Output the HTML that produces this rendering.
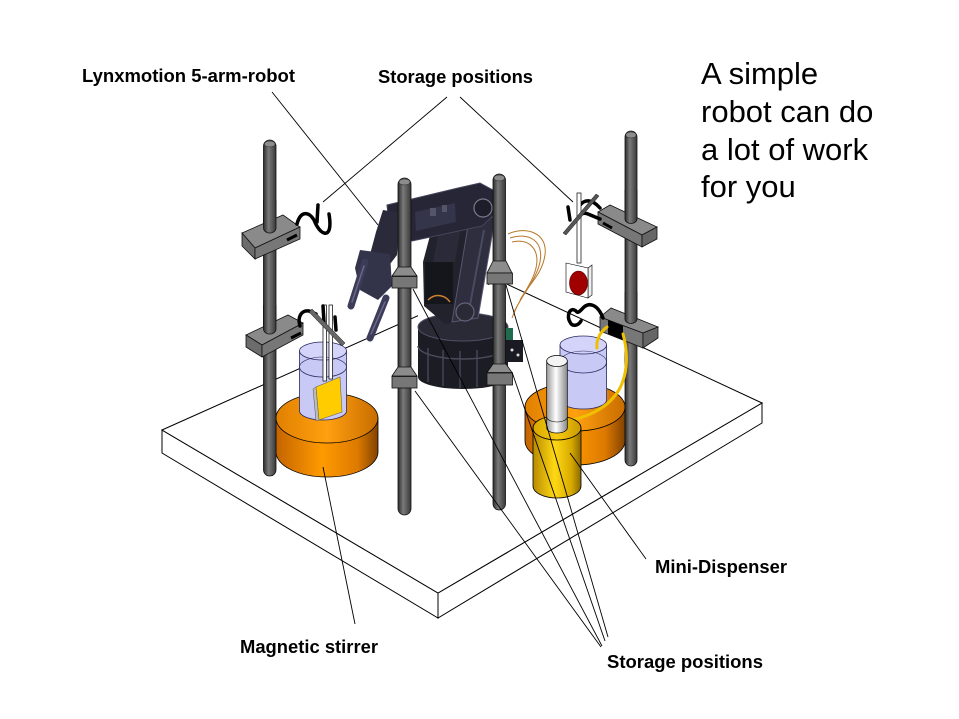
<!DOCTYPE html>
<html><head><meta charset="utf-8"><style>html,body{margin:0;padding:0;background:#fff;}svg{display:block}</style></head>
<body>
<svg width="959" height="719" viewBox="0 0 959 719" xmlns="http://www.w3.org/2000/svg">
<defs>
<linearGradient id="rod" x1="0" y1="0" x2="1" y2="0"><stop offset="0" stop-color="#2c2c2c"/><stop offset="0.4" stop-color="#7a7a7a"/><stop offset="1" stop-color="#383838"/></linearGradient>
<linearGradient id="org" x1="0" y1="0" x2="1" y2="0"><stop offset="0" stop-color="#c46400"/><stop offset="0.45" stop-color="#ff9a00"/><stop offset="0.8" stop-color="#dd7a00"/><stop offset="1" stop-color="#824200"/></linearGradient>
<linearGradient id="orgT" x1="0" y1="0" x2="1" y2="0"><stop offset="0" stop-color="#e08000"/><stop offset="0.5" stop-color="#ffa010"/><stop offset="1" stop-color="#c86c00"/></linearGradient>
<linearGradient id="gold" x1="0" y1="0" x2="1" y2="0"><stop offset="0" stop-color="#b88a00"/><stop offset="0.45" stop-color="#ffd814"/><stop offset="0.8" stop-color="#d8aa00"/><stop offset="1" stop-color="#8a6800"/></linearGradient>
<linearGradient id="goldT" x1="0" y1="0" x2="1" y2="0"><stop offset="0" stop-color="#d8a800"/><stop offset="0.5" stop-color="#f8cc10"/><stop offset="1" stop-color="#c89800"/></linearGradient>
<linearGradient id="silver" x1="0" y1="0" x2="1" y2="0"><stop offset="0" stop-color="#9a9a9a"/><stop offset="0.45" stop-color="#ffffff"/><stop offset="1" stop-color="#888888"/></linearGradient>
</defs>
<rect width="959" height="719" fill="#fff"/>

<!-- Base plate -->
<g fill="#fff" stroke="#000" stroke-width="1">
<polygon points="162,430 438,593 438,618 162,453"/>
<polygon points="438,593 762,403 762,423 438,618"/>
<polygon points="162,430 498,280 762,403 438,593"/>
</g>

<!-- LEFT STACK -->
<path d="M276,418 L276,452 A51,25 0 0 0 378,452 L378,418 Z" fill="url(#org)" stroke="#000" stroke-width="0.8"/>
<ellipse cx="327" cy="418" rx="51" ry="25" fill="url(#orgT)" stroke="#000" stroke-width="0.8"/>
<path d="M299.5,351 L299.5,411 A23.5,9 0 0 0 346.5,411 L346.5,351 Z" fill="#c9c9f6" stroke="#2a2a60" stroke-width="0.8"/>
<ellipse cx="323" cy="351" rx="23.5" ry="9" fill="#d4d4fa" stroke="#2a2a60" stroke-width="0.8"/>
<path d="M299.5,367 A23.5,10 0 0 0 346.5,367" fill="none" stroke="#2a2a60" stroke-width="0.8"/>
<path d="M299.5,367 A23.5,10 0 0 1 346.5,367" fill="none" stroke="#2a2a60" stroke-width="0.6"/>
<rect x="323" y="305" width="3.5" height="76" fill="#fff" stroke="#000" stroke-width="0.7"/>
<rect x="329" y="305" width="3.5" height="74" fill="#fff" stroke="#000" stroke-width="0.7"/>
<polygon points="313,389 316,387 319,420 316,421" fill="#bbb" stroke="#555" stroke-width="0.5"/>
<polygon points="316,387 340,377 342,412 319,420" fill="#ffcc00" stroke="#666" stroke-width="0.6"/>

<!-- left back rod -->
<rect x="263.5" y="140" width="12.5" height="336" rx="6.2" fill="url(#rod)" stroke="#111" stroke-width="0.8"/>
<ellipse cx="269.75" cy="144" rx="5.4" ry="3" fill="#8c8c8c" stroke="#222" stroke-width="0.5"/>
<!-- upper left clamp -->
<g stroke="#111" stroke-width="0.8">
<polygon points="242,233 283,215 300,227 255,248" fill="#8a8a8a"/>
<polygon points="242,233 255,248 255,259 242,246" fill="#6c6c6c"/>
<polygon points="255,248 300,227 300,239 255,259" fill="#777"/>
</g>
<path d="M263.5,200 L263.5,228 A6.25,5 0 0 0 276,228 L276,200" fill="url(#rod)" stroke="#111" stroke-width="0.8"/>
<line x1="287" y1="240" x2="297" y2="235" stroke="#000" stroke-width="3"/>
<g fill="none" stroke="#000" stroke-width="3.5" stroke-linecap="round">
<path d="M297,224 C300,212 308,210 314,220 C318,230 324,236 328,232 C331,228 330,220 329,214"/>
<path d="M318,205 L317,222"/>
</g>
<!-- lower left clamp -->
<g stroke="#111" stroke-width="0.8">
<polygon points="246,335 288,315 303,323 262,345" fill="#8a8a8a"/>
<polygon points="246,335 262,345 262,357 246,347" fill="#6c6c6c"/>
<polygon points="262,345 303,323 303,335 262,357" fill="#777"/>
</g>
<path d="M263.5,305 L263.5,329 A6.25,5 0 0 0 276,329 L276,305" fill="url(#rod)" stroke="#111" stroke-width="0.8"/>
<line x1="291" y1="338" x2="301" y2="333" stroke="#000" stroke-width="3"/>
<g fill="none" stroke="#000" stroke-width="3.5" stroke-linecap="round">
<path d="M300,326 C297,316 302,310 309,311 L316,314"/>
<path d="M323,306 L324,322"/>
<path d="M335,317 L336,330"/>
</g>
<polygon points="309,312 312,309 345,343 342,346" fill="#666" stroke="#111" stroke-width="0.5"/>

<!-- ROBOT -->
<polygon points="418,322 418,308 488,277 488,292" fill="#fff"/>
<path d="M418,327 L418,377 A45,12 0 0 0 508,377 L508,327 Z" fill="#1c1c24"/>
<g stroke="#3a3a4a" stroke-width="2">
<line x1="428" y1="348" x2="428" y2="382"/><line x1="443" y1="350" x2="443" y2="386"/><line x1="460" y1="351" x2="460" y2="388"/><line x1="477" y1="350" x2="477" y2="387"/><line x1="494" y1="348" x2="494" y2="383"/>
</g>
<path d="M418,346 A45,13 0 0 0 508,346" fill="none" stroke="#4a4a5a" stroke-width="1.5"/>
<ellipse cx="463" cy="327" rx="45" ry="14" fill="#2a2a36" stroke="#50506a" stroke-width="1"/>
<polygon points="432,228 468,218 478,318 445,324 424,306 423,262" fill="#22222c"/>
<rect x="425" y="262" width="28" height="42" fill="#15151c"/>
<polygon points="440,226 462,221 455,262 433,262" fill="#2a2a38"/>
<polygon points="470,214 495,218 478,318 452,322" fill="#2e2e3e" stroke="#55556e" stroke-width="1"/>
<line x1="484" y1="230" x2="470" y2="305" stroke="#4a4a62" stroke-width="2"/>
<circle cx="465" cy="312" r="9" fill="#2a2a36" stroke="#64647e" stroke-width="1.2"/>
<polygon points="387,205 458,188 480,183 493,190 495,214 482,226 412,241 390,233" fill="#262636" stroke="#44445c" stroke-width="1"/>
<polygon points="415,212 455,203 456,222 416,231" fill="#34344a"/>
<rect x="430" y="208" width="6" height="8" fill="#55556a"/>
<rect x="442" y="205" width="5" height="7" fill="#55556a"/>
<circle cx="483" cy="208" r="9" fill="#1e1e2a" stroke="#7a7a90" stroke-width="1.2"/>
<circle cx="395" cy="220" r="7" fill="#1e1e2a" stroke="#6a6a80" stroke-width="1"/>
<polygon points="383,210 401,213 397,255 384,272 368,262 376,232" fill="#2a2a3a"/>
<polygon points="360,250 390,254 392,286 378,300 360,290 355,268" fill="#33334a"/>
<g stroke-linecap="round" fill="none">
<line x1="365" y1="262" x2="351" y2="306" stroke="#3c3c58" stroke-width="7"/>
<line x1="386" y1="298" x2="370" y2="338" stroke="#3c3c58" stroke-width="7"/>
<line x1="364" y1="266" x2="352" y2="302" stroke="#6a6a88" stroke-width="1.5"/>
<line x1="385" y1="302" x2="371" y2="334" stroke="#6a6a88" stroke-width="1.5"/>
</g>
<g fill="none" stroke="#b8782a" stroke-width="1">
<path d="M508,234 C525,226 548,232 545,255 C542,275 528,285 520,300"/>
<path d="M510,238 C528,232 544,240 540,262 C536,280 524,292 514,312"/>
<path d="M512,242 C530,238 540,250 536,268 C532,285 520,296 512,318"/>
</g>
<path d="M428,300 C436,292 446,296 450,302" fill="none" stroke="#d08030" stroke-width="1.5"/>
<rect x="503" y="328" width="10" height="14" fill="#1f6b50"/>
<rect x="505" y="340" width="18" height="22" fill="#1a1a22"/>
<circle cx="512" cy="350" r="1.5" fill="#ddd"/><circle cx="518" cy="355" r="1.5" fill="#ddd"/>

<!-- FRONT RODS -->
<rect x="398" y="178" width="13" height="337" rx="6.5" fill="url(#rod)" stroke="#111" stroke-width="0.8"/>
<ellipse cx="404.5" cy="182" rx="5.6" ry="3" fill="#8c8c8c" stroke="#222" stroke-width="0.5"/>
<g stroke="#111" stroke-width="0.8">
<polygon points="398,267 411,267 417,276 392,276" fill="#8c8c8c"/>
<rect x="392" y="276.5" width="25" height="11.5" fill="#777"/>
<polygon points="398,367 411,367 417,376 392,376" fill="#8c8c8c"/>
<rect x="392" y="376.5" width="25" height="11.5" fill="#777"/>
</g>
<rect x="493" y="174" width="12.5" height="336" rx="6.2" fill="url(#rod)" stroke="#111" stroke-width="0.8"/>
<ellipse cx="499.25" cy="178" rx="5.4" ry="3" fill="#8c8c8c" stroke="#222" stroke-width="0.5"/>
<g stroke="#111" stroke-width="0.8">
<polygon points="493,261 506,261 512,273 487,273" fill="#8c8c8c"/>
<rect x="487" y="273" width="25.5" height="11" fill="#777"/>
<polygon points="493,364 506,364 512,372.5 487,372.5" fill="#8c8c8c"/>
<rect x="487" y="373" width="25.5" height="12" fill="#777"/>
</g>

<!-- RIGHT STACK -->
<path d="M525,407 L525,441 A50,24 0 0 0 625,441 L625,407 Z" fill="url(#org)" stroke="#000" stroke-width="0.8"/>
<ellipse cx="575" cy="407" rx="50" ry="24" fill="url(#orgT)" stroke="#000" stroke-width="0.8"/>
<path d="M560,345 L560,400 A23.3,9 0 0 0 606.6,400 L606.6,345 Z" fill="#c9c9f6" stroke="#2a2a60" stroke-width="0.8"/>
<ellipse cx="583.3" cy="345" rx="23.3" ry="9" fill="#d4d4fa" stroke="#2a2a60" stroke-width="0.8"/>
<path d="M560,362 A23.3,11 0 0 0 606.6,362" fill="none" stroke="#2a2a60" stroke-width="0.8"/>
<path d="M560,362 A23.3,11 0 0 1 606.6,362" fill="none" stroke="#2a2a60" stroke-width="0.6"/>

<!-- right back rod -->
<rect x="625" y="131" width="12" height="335" rx="6" fill="url(#rod)" stroke="#111" stroke-width="0.8"/>
<ellipse cx="631" cy="135" rx="5.2" ry="3" fill="#8c8c8c" stroke="#222" stroke-width="0.5"/>
<g stroke="#111" stroke-width="0.8">
<polygon points="598,212 610,205 657,227 642,235" fill="#8a8a8a"/>
<polygon points="598,212 642,235 642,247 598,224" fill="#777"/>
<polygon points="642,235 657,227 657,239 642,247" fill="#666"/>
</g>
<path d="M625,190 L625,219 A6,4.5 0 0 0 637,219 L637,190" fill="url(#rod)" stroke="#111" stroke-width="0.8"/>
<line x1="603" y1="223" x2="612" y2="228" stroke="#000" stroke-width="3"/>
<g stroke="#111" stroke-width="0.8">
<polygon points="600,317 611,308 658,327 643,333" fill="#8a8a8a"/>
<polygon points="600,317 643,333 643,348 600,331" fill="#777"/>
<polygon points="643,333 658,327 658,338 643,348" fill="#666"/>
</g>
<path d="M625,292 L625,319 A6,4.5 0 0 0 637,319 L637,292" fill="url(#rod)" stroke="#111" stroke-width="0.8"/>
<polygon points="608,320 623,326 623,340 608,334" fill="#000"/>

<!-- right hooks, slide, tube -->
<g fill="none" stroke="#000" stroke-width="3.5" stroke-linecap="round">
<path d="M600,208 C592,199 585,199 580,205"/>
<path d="M600,219 L588,214 C583,212 580,214 578,218"/>
<path d="M568,207 L570,220"/>
<path d="M603,318 C598,305 590,302 584,307 C580,311 578,314 576,311 C570,306 566,316 570,322 C572,327 578,326 581,321"/>
</g>
<polygon points="588,268 592,265 592,295 588,298" fill="#eee" stroke="#000" stroke-width="0.6"/>
<polygon points="566,263 588,268 588,298 566,292" fill="#fff" stroke="#000" stroke-width="0.6"/>
<ellipse cx="578.5" cy="283" rx="9" ry="12" fill="#a00000" stroke="#500" stroke-width="0.6"/>
<rect x="577" y="193" width="4" height="70" fill="#fff" stroke="#000" stroke-width="0.7"/>
<polygon points="563,233 596,194 599,196 566,235" fill="#555" stroke="#111" stroke-width="0.5"/>

<!-- yellow tubes -->
<g fill="none" stroke="#f0c000" stroke-width="3" stroke-linecap="round">
<path d="M623,334 C628,352 628,372 620,388 C612,403 596,415 568,421"/>
<path d="M607,327 C600,332 596,340 597,348"/>
</g>

<!-- dispenser -->
<path d="M533,428 L533,486 A24,12 0 0 0 581,486 L581,428 Z" fill="url(#gold)" stroke="#000" stroke-width="0.8"/>
<ellipse cx="557" cy="428" rx="24" ry="12" fill="url(#goldT)" stroke="#000" stroke-width="0.8"/>
<path d="M546.7,361 L546.7,428 A10.3,5 0 0 0 567.3,428 L567.3,361 Z" fill="url(#silver)" stroke="#000" stroke-width="0.7"/>
<ellipse cx="557" cy="361" rx="10.3" ry="5.5" fill="#f4f4f4" stroke="#000" stroke-width="0.7"/>
<path d="M546.7,417 A10.3,5 0 0 0 567.3,417" fill="none" stroke="#000" stroke-width="0.6"/>

<!-- LEADER LINES -->
<g stroke="#000" stroke-width="0.9" fill="none">
<line x1="272" y1="92" x2="378" y2="225"/>
<line x1="447" y1="97" x2="323" y2="202"/>
<line x1="460" y1="97" x2="573" y2="202"/>
<line x1="323" y1="467" x2="355" y2="624"/>
<line x1="570" y1="453" x2="646" y2="559"/>
<line x1="415" y1="391" x2="601" y2="647"/>
<line x1="413" y1="289" x2="602" y2="646"/>
<line x1="506" y1="285" x2="608" y2="637"/>
<line x1="512" y1="372" x2="605" y2="641"/>
</g>

<!-- TEXT -->
<g font-family="'Liberation Sans', Arial, sans-serif" font-weight="bold" font-size="18.5" fill="#000">
<text x="82" y="82" textLength="213" lengthAdjust="spacingAndGlyphs">Lynxmotion 5-arm-robot</text>
<text x="378" y="83" textLength="155" lengthAdjust="spacingAndGlyphs">Storage positions</text>
<text x="240" y="653" textLength="138" lengthAdjust="spacingAndGlyphs">Magnetic stirrer</text>
<text x="655" y="573" textLength="132" lengthAdjust="spacingAndGlyphs">Mini-Dispenser</text>
<text x="607" y="668" textLength="156" lengthAdjust="spacingAndGlyphs">Storage positions</text>
</g>
<g font-family="'Liberation Sans', Arial, sans-serif" font-size="31" fill="#000">
<text x="701" y="84">A simple</text>
<text x="701" y="122">robot can do</text>
<text x="701" y="160">a lot of work</text>
<text x="701" y="197">for you</text>
</g>
</svg>
</body></html>
